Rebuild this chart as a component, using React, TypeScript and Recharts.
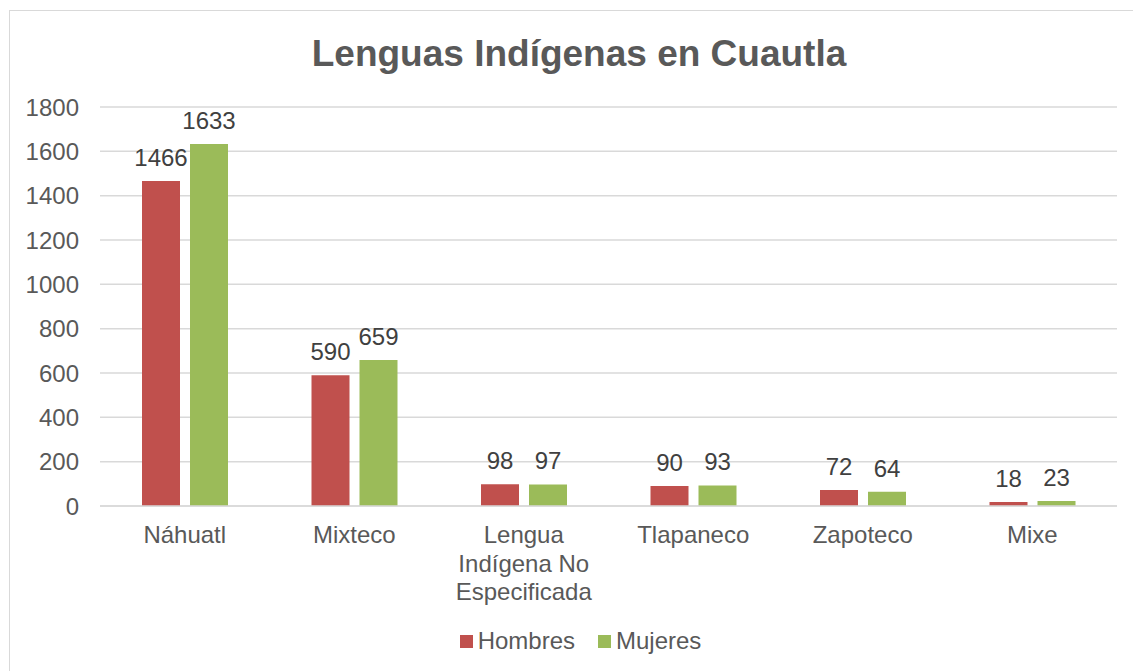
import { BarChart, Bar, XAxis, YAxis, CartesianGrid, LabelList, Legend } from "recharts";

const categories = ["Náhuatl", "Mixteco", "Lengua Indígena No Especificada", "Tlapaneco", "Zapoteco", "Mixe"];
// how the long category name breaks into lines under the axis
const categoryLines: Record<string, string[]> = {
  "Lengua Indígena No Especificada": ["Lengua", "Indígena No", "Especificada"],
};
const hombres = [1466, 590, 98, 90, 72, 18];
const mujeres = [1633, 659, 97, 93, 64, 23];
const yTicks = [0, 200, 400, 600, 800, 1000, 1200, 1400, 1600, 1800];

const data = categories.map((name, i) => ({ name, Hombres: hombres[i], Mujeres: mujeres[i] }));

const FONT = "'Liberation Sans', Arial, sans-serif";
const RED = "#C0504D";
const GREEN = "#9BBB59";

function CategoryTick(props: any) {
  const { x, y, payload } = props;
  const lines = categoryLines[payload.value] || [payload.value];
  return (
    <text x={x} y={y + 37} textAnchor="middle" fill="#595959" fontSize={24} fontFamily={FONT}>
      {lines.map((l, i) => (
        <tspan key={i} x={x} dy={i === 0 ? 0 : 28.5}>
          {l}
        </tspan>
      ))}
    </text>
  );
}

function LegendContent() {
  const items = [
    { label: "Hombres", color: RED },
    { label: "Mujeres", color: GREEN },
  ];
  return (
    <div style={{ display: "flex", justifyContent: "center", gap: 23, fontFamily: FONT, fontSize: 24, color: "#595959" }}>
      {items.map((it) => (
        <div key={it.label} style={{ display: "flex", alignItems: "center" }}>
          <span style={{ display: "inline-block", width: 13, height: 13, background: it.color, marginRight: 5 }} />
          <span>{it.label}</span>
        </div>
      ))}
    </div>
  );
}

export default function App() {
  return (
    <div style={{ position: "absolute", left: 0, top: 0, width: 1133, height: 671, overflow: "hidden", background: "#fff" }}>
      <div
        style={{
          position: "absolute",
          left: 9,
          top: 10,
          width: 1140,
          height: 680,
          border: "1px solid #D9D9D9",
          boxSizing: "border-box",
        }}
      >
        <div
          style={{
            position: "absolute",
            left: 0,
            top: 24,
            width: 1138,
            textAlign: "center",
            fontFamily: FONT,
            fontWeight: "bold",
            fontSize: 37,
            lineHeight: "37px",
            color: "#595959",
          }}
        >
          Lenguas Indígenas en Cuautla
        </div>
        <BarChart
          width={1138}
          height={678}
          data={data}
          margin={{ top: 96, right: 31, left: 0, bottom: 55 }}
          barSize={38}
          barGap={10}
        >
          <CartesianGrid vertical={false} stroke="#D9D9D9" strokeWidth={1.5} />
          <XAxis
            dataKey="name"
            interval={0}
            tickLine={false}
            tickSize={0}
            tickMargin={0}
            axisLine={{ stroke: "#D9D9D9", strokeWidth: 1.5 }}
            tick={<CategoryTick />}
            height={100}
          />
          <YAxis
            width={90}
            domain={[0, 1800]}
            ticks={yTicks}
            interval={0}
            axisLine={false}
            tickLine={false}
            tickSize={0}
            tickMargin={21}
            tick={{ fill: "#595959", fontSize: 24, fontFamily: FONT }}
          />
          <Legend
            verticalAlign="bottom"
            content={<LegendContent />}
            wrapperStyle={{ top: 616, bottom: "auto", left: 17 }}
          />
          <Bar dataKey="Hombres" fill={RED} isAnimationActive={false}>
            <LabelList dataKey="Hombres" position="top" offset={15} fill="#404040" fontSize={24} fontFamily={FONT} />
          </Bar>
          <Bar dataKey="Mujeres" fill={GREEN} isAnimationActive={false}>
            <LabelList dataKey="Mujeres" position="top" offset={15} fill="#404040" fontSize={24} fontFamily={FONT} />
          </Bar>
        </BarChart>
      </div>
    </div>
  );
}
